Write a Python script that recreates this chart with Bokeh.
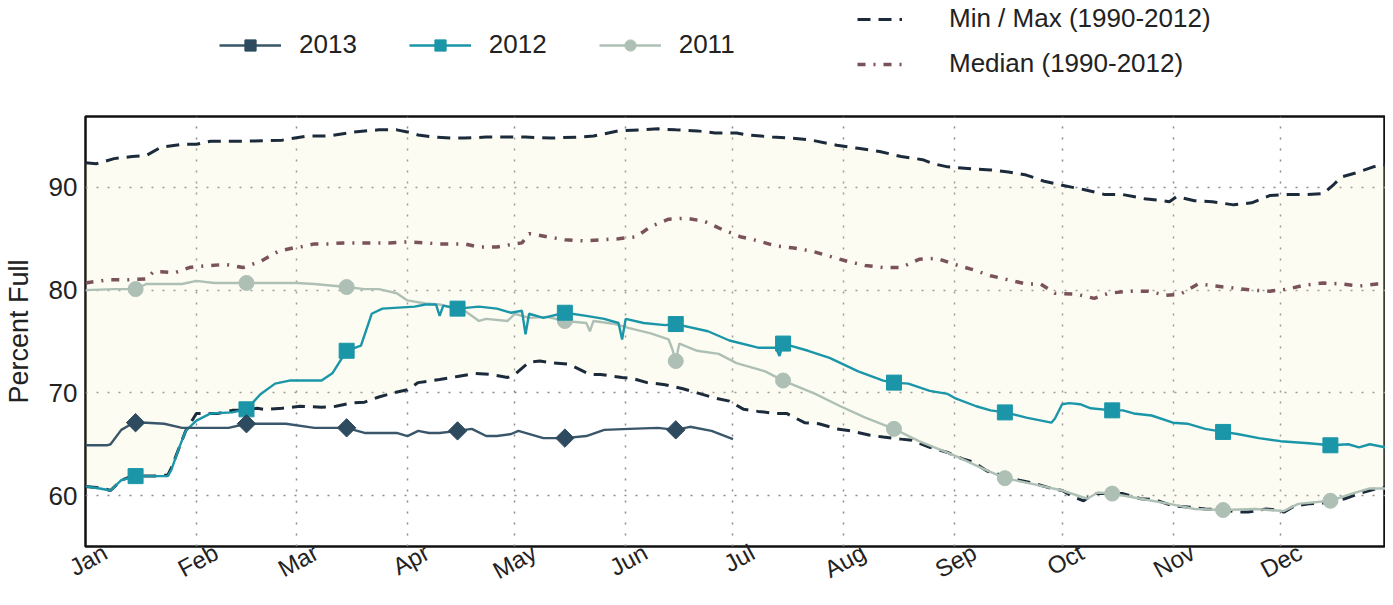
import math
from bokeh.plotting import figure
from bokeh.layouts import column
from bokeh.models import Legend, LegendItem, FixedTicker, Range1d
from bokeh.embed import file_html
from bokeh.resources import INLINE

# ---------------- data (day of year, percent full) ----------------
month_ticks = [0, 31, 59, 90, 120, 151, 181, 212, 243, 273, 304, 334]
month_labels = ["Jan", "Feb", "Mar", "Apr", "May", "Jun",
                "Jul", "Aug", "Sep", "Oct", "Nov", "Dec"]
y_ticks = [60, 70, 80, 90]
marker_days = [14, 45, 73, 104, 134, 165, 195, 226, 257, 287, 318, 348]

max_days = [0, 3, 8, 13, 17, 21, 27, 31, 35, 45, 55, 62, 68, 75, 82, 87, 90, 93, 97,
            102, 106, 112, 118, 123, 130, 138, 142, 149, 155, 160, 165, 171, 176, 182,
            185, 192, 197, 203, 210, 216, 222, 228, 234, 237, 241, 248, 253, 258, 263,
            268, 273, 279, 285, 290, 296, 301, 303, 305, 310, 315, 321, 326, 331, 336,
            341, 346, 349, 351, 355, 360, 363.4]
max_vals = [92.4, 92.3, 92.8, 93.0, 93.1, 93.9, 94.2, 94.2, 94.5, 94.5, 94.6, 95.0, 95.0,
            95.4, 95.6, 95.6, 95.4, 95.1, 94.9, 94.8, 94.8, 94.9, 94.9, 94.9, 94.8, 94.9,
            95.0, 95.5, 95.6, 95.7, 95.6, 95.5, 95.3, 95.3, 95.1, 94.9, 94.8, 94.6, 94.1,
            93.8, 93.5, 93.0, 92.7, 92.3, 92.0, 91.8, 91.7, 91.5, 91.2, 90.6, 90.2, 89.8,
            89.3, 89.3, 88.9, 88.7, 88.6, 89.1, 88.7, 88.6, 88.3, 88.5, 89.2, 89.3, 89.3,
            89.4, 90.3, 91.0, 91.4, 92.0, 92.2]

min_days = [0, 3, 6, 7, 10, 13, 19, 23, 24, 26, 28, 31, 37, 41, 44, 48, 50, 55, 60, 66,
            70, 74, 78, 82, 86, 90, 93, 99, 104, 109, 113, 118, 120, 124, 127, 131, 135,
            141, 144, 150, 153, 157, 162, 167, 171, 176, 180, 184, 188, 193, 196, 201,
            205, 210, 214, 219, 223, 228, 231, 236, 241, 245, 248, 252, 256, 261, 265,
            270, 273, 276, 279, 282, 286, 290, 295, 299, 304, 308, 313, 318, 322, 325,
            330, 333, 335, 338, 342, 347, 352, 356, 361, 363.4]
min_vals = [60.9, 60.8, 60.6, 60.5, 61.5, 61.9, 61.9, 62.0, 62.7, 64.5, 66.3, 68.0, 68.0,
            68.3, 68.3, 68.5, 68.4, 68.5, 68.7, 68.6, 68.7, 69.0, 69.1, 69.6, 70.0, 70.3,
            71.0, 71.3, 71.6, 71.9, 71.8, 71.5, 71.8, 73.0, 73.1, 72.9, 72.8, 71.8, 71.8,
            71.5, 71.4, 71.0, 70.8, 70.4, 70.0, 69.5, 69.2, 68.4, 68.2, 68.0, 68.0, 67.1,
            67.0, 66.5, 66.3, 65.9, 65.7, 65.5, 65.4, 64.7, 64.2, 63.6, 63.3, 62.4, 62.0,
            61.5, 61.2, 60.7, 60.5, 59.9, 59.5, 60.2, 60.2, 60.2, 59.7, 59.6, 59.0, 58.9,
            58.7, 58.6, 58.4, 58.4, 58.7, 58.6, 58.4, 59.0, 59.2, 59.3, 59.7, 60.2, 60.7,
            60.8]

med_days = [0, 6, 12, 17, 19, 21, 25, 29, 31, 39, 41, 44, 49, 54, 58, 60, 64, 68, 72, 79,
            85, 90, 95, 99, 103, 106, 110, 115, 120, 122, 124, 129, 134, 139, 144, 149,
            154, 158, 163, 168, 173, 178, 183, 188, 193, 198, 203, 208, 213, 218, 223,
            228, 233, 238, 243, 248, 253, 258, 263, 267, 271, 277, 282, 286, 292, 297,
            302, 306, 311, 316, 321, 326, 331, 336, 341, 346, 351, 356, 361, 363.4]
med_vals = [80.7, 81.0, 81.0, 81.1, 81.8, 81.8, 81.7, 82.2, 82.3, 82.5, 82.4, 82.2, 82.8,
            83.8, 84.1, 84.2, 84.5, 84.5, 84.6, 84.6, 84.6, 84.7, 84.6, 84.5, 84.5, 84.5,
            84.2, 84.2, 84.5, 84.6, 85.5, 85.2, 84.9, 84.8, 84.9, 85.0, 85.2, 86.2, 86.9,
            87.0, 86.7, 85.9, 85.2, 84.8, 84.3, 84.1, 83.8, 83.3, 82.8, 82.4, 82.2, 82.2,
            83.0, 83.1, 82.5, 82.0, 81.4, 81.0, 80.6, 80.6, 79.7, 79.6, 79.2, 79.7, 79.9,
            79.9, 79.5, 79.6, 80.6, 80.4, 80.2, 80.0, 79.9, 80.1, 80.5, 80.7, 80.6, 80.4,
            80.6, 80.6]

y2013_days = [0, 3, 6, 7, 10, 12, 14, 17, 22, 27, 31, 40, 45, 50, 56, 64, 70, 73, 78, 87,
              90, 93, 96, 99, 104, 108, 112, 115, 119, 121, 128, 134, 140, 145, 152, 160,
              165, 169, 175, 181]
y2013_vals = [64.9, 64.9, 64.9, 65.0, 66.4, 66.8, 67.1, 67.1, 67.0, 66.6, 66.6, 66.6, 67.0,
              67.0, 67.0, 66.6, 66.6, 66.6, 66.1, 66.1, 65.8, 66.3, 66.1, 66.1, 66.3, 66.5,
              65.8, 65.8, 66.0, 66.3, 65.6, 65.6, 65.8, 66.4, 66.5, 66.6, 66.4, 66.7, 66.3,
              65.5]

y2012_days = [0, 4, 7, 10, 12, 14, 17, 23, 24, 26, 28, 31, 35, 41, 45, 49, 53, 57, 64, 66,
              69, 73, 77, 80, 83, 92, 95, 98, 99, 100, 104, 110, 115, 119, 122, 123, 124,
              128, 134, 140, 145, 149, 150, 151, 156, 162, 165, 174, 180, 188, 193, 194,
              195, 202, 208, 216, 223, 226, 230, 236, 241, 243, 249, 253, 257, 263, 270,
              271, 273, 275, 278, 281, 287, 290, 293, 298, 304, 308, 313, 318, 322, 328,
              334, 342, 348, 353, 356, 359, 363.4]
y2012_vals = [60.9, 60.7, 60.5, 61.5, 61.7, 61.9, 61.9, 61.9, 62.5, 64.5, 66.3, 67.3, 68.0,
              68.1, 68.4, 69.9, 70.9, 71.2, 71.2, 71.2, 71.9, 74.1, 74.6, 77.7, 78.2, 78.4,
              78.6, 78.6, 77.5, 78.5, 78.2, 78.4, 78.2, 77.8, 78.0, 75.7, 77.7, 77.3, 77.8,
              77.5, 77.2, 76.8, 75.2, 77.2, 76.8, 76.6, 76.7, 76.0, 75.1, 74.4, 74.4, 73.6,
              74.8, 74.1, 73.4, 72.1, 71.2, 71.0, 70.9, 70.2, 69.9, 69.5, 68.7, 68.3, 68.1,
              67.6, 67.1, 67.5, 68.9, 69.0, 68.9, 68.5, 68.3, 68.3, 68.0, 67.8, 67.1, 67.0,
              66.5, 66.2, 66.0, 65.6, 65.3, 65.1, 64.9, 65.0, 64.7, 65.0, 64.7]

y2011_days = [0, 8, 14, 17, 27, 31, 36, 41, 45, 50, 59, 64, 73, 78, 82, 87, 90, 95, 99,
              106, 110, 112, 118, 120, 124, 129, 134, 140, 141, 142, 148, 152, 158, 163,
              164, 165, 166, 171, 177, 182, 190, 195, 204, 211, 218, 226, 233, 243, 251,
              257, 264, 273, 280, 283, 287, 295, 303, 310, 318, 327, 335, 339, 348, 354,
              359, 363.4]
y2011_vals = [80.0, 80.1, 80.1, 80.6, 80.6, 80.9, 80.7, 80.7, 80.7, 80.7, 80.7, 80.6, 80.3,
              80.1, 80.1, 79.7, 79.0, 78.7, 78.6, 78.0, 77.0, 77.2, 77.0, 77.7, 77.3, 77.4,
              77.0, 76.8, 76.0, 77.0, 76.7, 76.3, 75.8, 75.2, 74.3, 73.1, 74.8, 74.1, 73.8,
              72.9, 72.1, 71.2, 69.9, 68.7, 67.6, 66.5, 65.3, 63.9, 62.6, 61.7, 61.2, 60.5,
              59.7, 60.3, 60.2, 59.7, 59.2, 58.7, 58.6, 58.7, 58.5, 59.2, 59.5, 60.2, 60.7,
              60.7]

# ---------------- styling ----------------
FONT = "Liberation Sans"
TXT = "#222222"
ST_MINMAX = dict(line_color="#1C2B3B", line_width=3, line_dash="13 8")
ST_MED = dict(line_color="#7A5259", line_width=3.5, line_dash="8 8 2 8")
ST_13 = dict(line_color="#3A566A", line_width=2.4)
ST_12 = dict(line_color="#1A96A8", line_width=2.4)
ST_11 = dict(line_color="#AEC0B5", line_width=2.4)
MK_13 = dict(marker="square", angle=math.pi / 4, size=13, fill_color="#2D4A5E", line_color="#2D4A5E")
MK_12 = dict(marker="square", size=15, fill_color="#1A96A8", line_color="#1A96A8")
MK_11 = dict(marker="circle", size=15, fill_color="#AEC0B5", line_color="#AEC0B5")


def markers(days, vals):
    d = dict(zip(days, vals))
    mx = [m for m in marker_days if m in d]
    return mx, [d[m] for m in mx]


# ---------------- legend strip (top) ----------------
# same series, drawn outside this strip's ranges: only their legend glyphs show
top = figure(width=1385, height=106, output_backend="svg", toolbar_location=None,
             x_range=Range1d(0, 1), y_range=Range1d(0, 1),
             x_axis_location=None, y_axis_location=None,
             min_border=0, outline_line_color=None)
top.grid.visible = False
e13 = top.line(y2013_days, y2013_vals, **ST_13)
m13 = top.scatter(*markers(y2013_days, y2013_vals), **MK_13)
e12 = top.line(y2012_days, y2012_vals, **ST_12)
m12 = top.scatter(*markers(y2012_days, y2012_vals), **MK_12)
e11 = top.line(y2011_days, y2011_vals, **ST_11)
m11 = top.scatter(*markers(y2011_days, y2011_vals), **MK_11)
emm = top.line(max_days, max_vals, **ST_MINMAX)
emd = top.line(med_days, med_vals, **ST_MED)

common = dict(padding=0, margin=0, border_line_color=None, background_fill_alpha=0,
              label_text_font=FONT, label_text_font_size="26px", label_text_color=TXT)
leg1 = Legend(items=[LegendItem(label="2013", renderers=[e13, m13]),
                     LegendItem(label="2012", renderers=[e12, m12]),
                     LegendItem(label="2011", renderers=[e11, m11])],
              orientation="horizontal", location=(134, 46),
              glyph_width=62, glyph_height=28, label_standoff=18, spacing=52, **common)
leg2 = Legend(items=[LegendItem(label="Min / Max (1990-2012)", renderers=[emm]),
                     LegendItem(label="Median (1990-2012)", renderers=[emd])],
              orientation="vertical", location=(772, 27),
              glyph_width=45, glyph_height=28, label_standoff=47, spacing=14, **common)
top.add_layout(leg1)
top.add_layout(leg2)

# ---------------- main chart ----------------
p = figure(width=1385, height=492, output_backend="svg", toolbar_location=None,
           x_range=Range1d(0, 363.4), y_range=Range1d(55.05, 96.9),
           min_border_left=80, min_border_right=0, min_border_top=10,
           min_border_bottom=41)

p.patch(x=max_days + min_days[::-1], y=max_vals + min_vals[::-1],
        fill_color="#F2F2C0", fill_alpha=0.2, line_color=None)

p.line(max_days, max_vals, **ST_MINMAX)
p.line(min_days, min_vals, **ST_MINMAX)
p.line(med_days, med_vals, **ST_MED)

p.line(y2011_days, y2011_vals, **ST_11)
p.scatter(*markers(y2011_days, y2011_vals), **MK_11)
p.line(y2012_days, y2012_vals, **ST_12)
p.scatter(*markers(y2012_days, y2012_vals), **MK_12)
p.line(y2013_days, y2013_vals, **ST_13)
p.scatter(*markers(y2013_days, y2013_vals), **MK_13)

# month labels sit centred under each month-start grid line
label_shift = 5.5
p.xgrid.ticker = FixedTicker(ticks=month_ticks)
p.xaxis.ticker = FixedTicker(ticks=[t + label_shift for t in month_ticks])
p.xaxis.major_label_overrides = {t + label_shift: l for t, l in zip(month_ticks, month_labels)}
p.xaxis.major_label_orientation = 0.5
p.yaxis.ticker = FixedTicker(ticks=y_ticks)
p.yaxis.axis_label = "Percent Full"
for ax in (p.xaxis[0], p.yaxis[0]):
    ax.axis_line_color = None
    ax.major_tick_line_color = None
    ax.minor_tick_line_color = None
    ax.major_tick_in = 0
    ax.major_tick_out = 0
    ax.minor_tick_in = 0
    ax.minor_tick_out = 0
    ax.major_label_text_font = FONT
    ax.major_label_text_color = TXT
    ax.axis_label_text_font = FONT
    ax.axis_label_text_font_style = "normal"
    ax.axis_label_text_color = TXT
p.xaxis.major_label_text_font_size = "24px"
p.xaxis.major_label_text_line_height = 0.9
p.yaxis.major_label_text_font_size = "26px"
p.yaxis.axis_label_text_font_size = "27px"
p.yaxis.major_label_standoff = 8
p.yaxis.axis_label_standoff = 12
p.xaxis.major_label_standoff = 4

p.grid.grid_line_color = "#8A8A8A"
p.grid.grid_line_dash = "2 9"
p.grid.grid_line_width = 1.5
p.outline_line_color = "#111111"
p.outline_line_width = 2.5

layout = column(top, p, spacing=0)
open("out.html", "w").write(file_html(layout, INLINE))
